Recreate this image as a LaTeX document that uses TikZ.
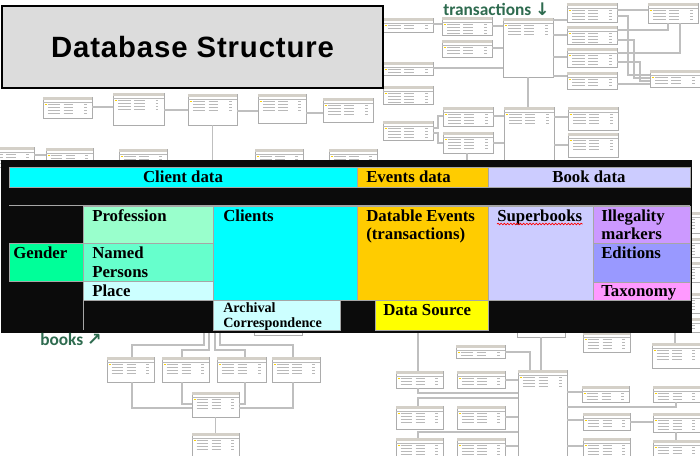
\documentclass[tikz,border=0pt]{standalone}
\usepackage{fontspec}
\setmainfont{Liberation Serif}
\newfontfamily\titlefont[LetterSpace=3]{Liberation Sans}
\newfontfamily\notefont{Carlito}
\newfontfamily\arrowfont{DejaVu Sans}
\usetikzlibrary{decorations.pathmorphing}

\definecolor{cellcyan}{HTML}{00FFFF}
\definecolor{cellorange}{HTML}{FFCC00}
\definecolor{celllav}{HTML}{CCCCFF}
\definecolor{cellmint}{HTML}{99FFCC}
\definecolor{cellaqua}{HTML}{66FFCC}
\definecolor{cellgreen}{HTML}{00FF99}
\definecolor{cellpale}{HTML}{CCFFFF}
\definecolor{cellviolet}{HTML}{CC99FF}
\definecolor{cellblue}{HTML}{9999FF}
\definecolor{cellpink}{HTML}{FF99FF}
\definecolor{cellyellow}{HTML}{FFFF00}
\definecolor{gridblack}{HTML}{0B0B0B}
\definecolor{titlegray}{HTML}{DCDCDC}
\definecolor{notegreen}{HTML}{2E6B4F}
\definecolor{headbeige}{HTML}{D4D0C8}

\begin{document}
\begin{tikzpicture}[x=0.75pt, y=-0.75pt,
    dbtab/.style={draw=gray!65, fill=white, line width=0.6pt, inner sep=0pt, outer sep=0pt, anchor=north west},
    tabhead/.style={fill=headbeige},
    tabrow/.style={draw=gray!55, line width=0.5pt},
    link/.style={draw=gray!50, line width=1pt},
    cellrule/.style={draw=gray!70, line width=0.75pt},
    celltext/.style={font=\bfseries\fontsize{12.6}{14}\selectfont, inner sep=0pt, anchor=base west},
    smalltext/.style={celltext, font=\bfseries\fontsize{10.6}{12}\selectfont},
    note/.style={font=\notefont\bfseries\fontsize{13}{15}\selectfont, text=notegreen, inner sep=0pt, anchor=base west}]
  \useasboundingbox (0,0) rectangle (700,455);
  \clip (0,0) rectangle (700,455);
  \fill[white] (0,0) rectangle (700,455);

  % schema tables in the background
  \foreach \n/\x/\y/\w/\h in {
      n1/43/97/49/21, n2/113/93/51/32, n3/188/94/49/31, n4/258/94/48/29, n5/323/98/50/24,
      n6/-14/147/48/20, n7/46/148/47/20, n8/119/149/48/20, n9/255/149/48/20, n10/329/149/48/20,
      e1/383/18/50/14, e2/442/17/50/18, e3/442/40/50/17, e4/503/18/50/59, e5/567/3/50/19,
      e6/567/26/50/18, e7/567/48/50/19, e8/567/72/50/17, e9/648/3/50/20, e10/650/70/50/17,
      e11/383/62/50/13, e12/383/86/50/18, e13/383/121/50/19, e14/443/107/50/19, e15/443/132/50/21,
      e16/504/107/50/60, e17/568/107/50/23, e18/568/133/50/24,
      w1/652/212/48/21, w2/652/238/48/19, w3/652/262/48/20, w4/652/293/48/20, w5/652/318/48/14,
      s1/107/357/47/25, s2/162/357/47/25, s3/217/357/49/25, s4/272/357/48/25,
      s5/192/392/47/25, s6/192/433/47/25, s7/254/310/48/25, s8/190/300/48/28,
      r1/396/371/47/17, r2/456/345/49/13, r3/457/371/48/17, r4/518/370/49/92, r5/517/310/48/27,
      r6/583/332/47/20, r7/652/343/48/25, r8/582/386/47/16, r9/653/386/47/16, r10/583/413/47/17,
      r11/653/413/47/19, r12/583/438/47/20, r13/653/440/47/20, r14/396/406/47/23, r15/457/406/48/23,
      r16/396/438/47/20, r17/457/438/48/20, r18/396/300/47/28}{
    \node[dbtab, minimum width=\w*0.75pt, minimum height=\h*0.75pt] (\n) at (\x,\y) {};
    \fill[tabhead] (\x,\y) rectangle ++(\w,2.6);
    \draw[tabrow] (\x,\y+5.2) -- ++(\w,0);
    \begin{scope}
      \clip (\x,\y) rectangle ++(\w,\h-1.5);
      \fill[yellow!70!orange] (\x+1.5,\y+6.7) rectangle ++(2,1.6);
      \foreach \r in {7.5,10.5,13.5,16.5}
        \draw[tabrow] (\x+0.1*\w,\y+\r) -- ++(0.25*\w,0)
                      (\x+0.42*\w,\y+\r) -- ++(0.2*\w,0)
                      (\x+0.84*\w,\y+\r) -- ++(0.05*\w,0);
    \end{scope}
  }

  % relations, upper left
  \draw[link] (n1.east |- 0,107) -- (n2.west |- 0,107);
  \draw[link] (n2.east |- 0,110) -- (n3.west |- 0,110);
  \draw[link] (n3.east |- 0,111) -- (n4.west |- 0,111);
  \draw[link] (n4.east |- 0,113) -- (n5.west |- 0,113);
  \draw[link] (n3.south) -- ++(0,45);
  \draw[link] (n6.east |- 0,155) -- (n7.west |- 0,155);
  % relations, upper right
  \draw[link] (e1.east |- 0,24) -- (e2.west |- 0,24);
  \draw[link] (e2.east |- 0,26) -- (e4.west |- 0,26);
  \draw[link] (e3.east |- 0,48) -- (e4.west |- 0,48);
  \draw[link] (e11.east |- 0,68) -- (e4.west |- 0,68);
  \draw[link] (e4.east |- 0,20) -- (e5.west |- 0,20);
  \draw[link] (e4.east |- 0,35) -- (e6.west |- 0,35);
  \draw[link] (e4.east |- 0,57) -- (e7.west |- 0,57);
  \draw[link] (e4.east |- 0,76) -- (e8.west |- 0,76);
  \draw[link] (e5.east |- 0,10) -- (e9.west |- 0,10);
  \draw[link] (e6.east |- 0,30) -| (e9.south -| 668,0);
  \draw[link] (e7.east |- 0,53) -| (e9.south -| 680,0);
  \draw[link] (e5.east |- 0,16) -- (628,16) |- (e10.west |- 0,75);
  \draw[link] (e6.east |- 0,40) -- (634,40) |- (e10.west |- 0,78);
  \draw[link] (e7.east |- 0,62) -- (640,62) |- (e10.west |- 0,81);
  \draw[link] (e8.east |- 0,84) -- (e10.west |- 0,84);
  \draw[link] (e4.south -| 528,0) -- (e16.north -| 528,0);
  \draw[link] (e13.east |- 0,128) -- (438,128) |- (e14.west |- 0,116);
  \draw[link] (e13.east |- 0,133) -- (438,133) |- (e15.west |- 0,143);
  \draw[link] (e14.east |- 0,116) -- (e16.west |- 0,116);
  \draw[link] (e15.east |- 0,143) -- (e16.west |- 0,143);
  \draw[link] (e16.east |- 0,117) -- (e17.west |- 0,117);
  \draw[link] (e16.east |- 0,145) -- (e18.west |- 0,145);
  \draw[link] (e15.south -| 467,0) -- ++(0,15);
  % relations, lower left
  \draw[link] (s8.south -| 204,0) |- (132,345) -- (s1.north -| 132,0);
  \draw[link] (s8.south -| 209,0) |- (182,350) -- (s2.north -| 182,0);
  \draw[link] (s8.south -| 215,0) |- (245,350) -- (s3.north -| 245,0);
  \draw[link] (s8.south -| 220,0) |- (293,345) -- (s4.north -| 293,0);
  \draw[link] (s1.south -| 132,0) |- (s5.west |- 0,408);
  \draw[link] (s2.south -| 182,0) |- (s5.west |- 0,404);
  \draw[link] (s3.south -| 245,0) |- (s5.east |- 0,404);
  \draw[link] (s4.south -| 293,0) |- (s5.east |- 0,408);
  \draw[link] (s5.south) -- (s6.north);
  % relations, lower right
  \draw[link] (r18.south -| 418,0) -- (r1.north -| 418,0);
  \draw[link] (r5.south -| 541,0) -- (r4.north -| 541,0);
  \draw[link] (r2.east |- 0,352) -| (r4.north -| 530,0);
  \draw[link] (r3.east |- 0,380) -- (r4.west |- 0,380);
  \draw[link] (r1.south -| 418,0) |- (r4.west |- 0,393);
  \draw[link] (r4.west |- 0,398) -| (r14.north -| 418,0);
  \draw[link] (r15.east |- 0,417) -- (r4.west |- 0,417);
  \draw[link] (r4.west |- 0,432) -| (r16.north -| 418,0);
  \draw[link] (r17.east |- 0,446) -- (r4.west |- 0,446);
  \draw[link] (r4.east |- 0,392) -- (r8.west |- 0,392);
  \draw[link] (r4.east |- 0,407) -| (r9.south -| 676,0);
  \draw[link] (r4.east |- 0,420) -- (r10.west |- 0,420);
  \draw[link] (r10.east |- 0,422) -- (r11.west |- 0,422);
  \draw[link] (r4.east |- 0,446) -- (r12.west |- 0,446);
  \draw[link] (r11.south -| 676,0) -- (r13.north -| 676,0);
  \draw[link] (w5.south -| 675,0) -- (r7.north -| 675,0);

  % title box
  \node[draw=black, line width=1.6pt, fill=titlegray, inner sep=0pt, anchor=north west,
        minimum width=381*0.75pt, minimum height=82*0.75pt] (titlebox) at (1,5) {};
  \node[font=\titlefont\bfseries\fontsize{22}{25}\selectfont, inner sep=0pt] (title) at (titlebox.center) {Database Structure};

  % overview grid
  \fill[gridblack] (1,160) rectangle (692,333);
  \foreach \x/\X/\c in {9/357/cellcyan, 357/488/cellorange, 488/690/celllav}
    \draw[cellrule, fill=\c] (\x,167) rectangle (\X,187);
  \draw[cellrule] (9,205.5) -- (690,205.5);
  \draw[cellrule] (83,206) -- (83,330);
  \foreach \x/\y/\X/\Y/\c in {
      9/243/83/281.5/cellgreen, 83/206/213/243/cellmint, 83/243/213/281.5/cellaqua,
      83/281.5/213/300/cellpale, 213/206/357/300/cellcyan, 213/300/340/330/cellpale,
      357/206/488/300/cellorange, 375/300.5/488/330/cellyellow, 488/206/593/300/celllav,
      593/206/690/243/cellviolet, 593/243/690/282/cellblue, 593/282/690/300/cellpink}
    \draw[cellrule, fill=\c] (\x,\y) rectangle (\X,\Y);

  \node[celltext, anchor=base] (clientdata) at (183,182) {Client data};
  \node[celltext] (eventsdata) at (366,182) {Events data};
  \node[celltext, anchor=base] (bookdata) at (589,182) {Book data};
  \node[celltext] (gender) at (13,258) {Gender};
  \node[celltext] (profession) at (92,221) {Profession};
  \node[celltext] (named) at (92,258) {Named};
  \node[celltext] (persons) at (92,277) {Persons};
  \node[celltext] (place) at (92,296) {Place};
  \node[celltext] (clients) at (223,221) {Clients};
  \node[smalltext] (archival) at (223,312) {Archival};
  \node[smalltext] (corresp) at (223,327) {Correspondence};
  \node[celltext] (datable) at (366,221) {Datable Events};
  \node[celltext] (transact) at (366,239) {(transactions)};
  \node[celltext] (datasource) at (383,315) {Data Source};
  \node[celltext] (superbooks) at (497,221) {Superbooks};
  \node[celltext] (illegality) at (601,221) {Illegality};
  \node[celltext] (markers) at (601,239) {markers};
  \node[celltext] (editions) at (601,258) {Editions};
  \node[celltext] (taxonomy) at (601,296) {Taxonomy};
  \draw[red, line width=0.5pt, decorate, decoration={snake, amplitude=0.6pt, segment length=2.4pt}]
    (superbooks.base west |- 0,224) -- (superbooks.base east |- 0,224);

  % notes
  \node[note] (txnote) at (443,15) {transactions {\arrowfont ↓}};
  \node[note] (booknote) at (40,345) {books {\arrowfont ↗}};
\end{tikzpicture}
\end{document}
